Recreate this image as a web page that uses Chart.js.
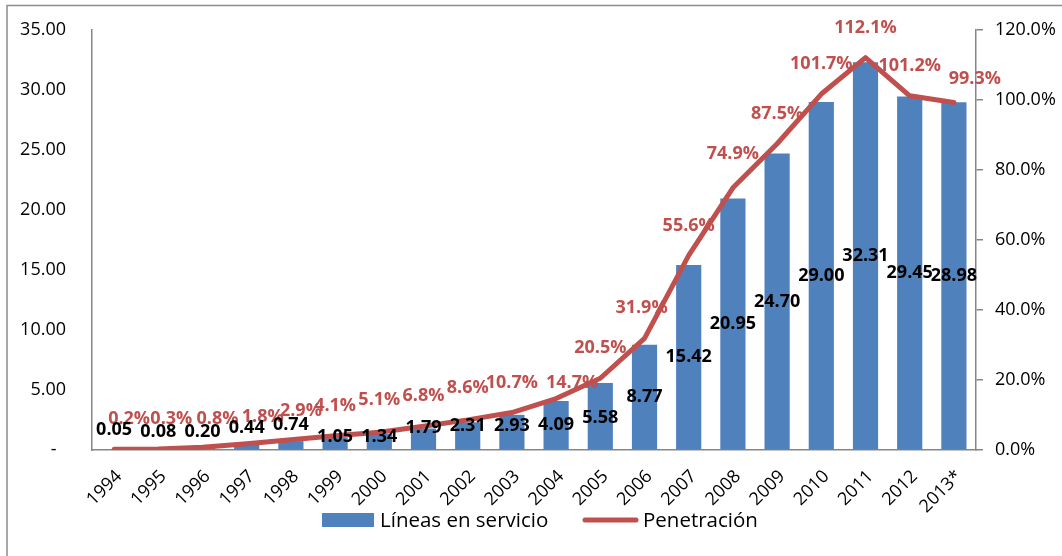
<!DOCTYPE html>
<html><head><meta charset="utf-8">
<script src="https://cdn.jsdelivr.net/npm/chart.js@4/dist/chart.umd.min.js"></script>
<style>html,body{margin:0;padding:0;background:#fff;}#wrap{width:1062px;height:556px;position:relative;}</style>
</head><body><div id="wrap"><canvas id="c" width="1062" height="556"></canvas></div>
<script>
const years = ['1994','1995','1996','1997','1998','1999','2000','2001','2002','2003','2004','2005','2006','2007','2008','2009','2010','2011','2012','2013*'];
const lineas = [0.05,0.08,0.20,0.44,0.74,1.05,1.34,1.79,2.31,2.93,4.09,5.58,8.77,15.42,20.95,24.70,29.00,32.31,29.45,28.98];
const penetracion = [0.2,0.3,0.8,1.8,2.9,4.1,5.1,6.8,8.6,10.7,14.7,20.5,31.9,55.6,74.9,87.5,101.7,112.1,101.2,99.3];
const seriesNames = ['Líneas en servicio','Penetración'];

const BLUE = '#4F81BD', RED = '#C0504D', AXIS = '#868686';
const FONT = '"Open Sans", "Liberation Sans", sans-serif';

function fixBox(w, h) {
  return function (s) {
    if (w !== null) s.width = w;
    if (h !== null) s.height = h;
    s.paddingTop = 0; s.paddingBottom = 0; s.paddingLeft = 0; s.paddingRight = 0;
  };
}

const labelPlugin = {
  id: 'customLabels',
  beforeDraw(chart) {
    const ctx = chart.ctx;
    ctx.save();
    ctx.fillStyle = '#fff';
    ctx.fillRect(0, 0, chart.width, chart.height);
    ctx.strokeStyle = '#8c8c8c';
    ctx.lineWidth = 1.5;
    ctx.strokeRect(7, 5.5, chart.width + 20, chart.height + 20);
    ctx.restore();
  },
  afterDatasetsDraw(chart, args, opts) {
    const ctx = chart.ctx;
    const barMeta = chart.getDatasetMeta(0);
    const lineMeta = chart.getDatasetMeta(1);
    ctx.save();
    ctx.textAlign = 'center';
    ctx.textBaseline = 'middle';
    ctx.font = 'bold 18px ' + FONT;
    ctx.fillStyle = RED;
    lineMeta.data.forEach((pt, i) => {
      ctx.fillText(penetracion[i].toFixed(1) + '%', pt.x + opts.lineDx[i], pt.y - 30 + opts.lineDy[i]);
    });
    ctx.fillStyle = '#000';
    barMeta.data.forEach((bar, i) => {
      const cy = Math.min((bar.y + bar.base) / 2, 430) + opts.barDy[i];
      ctx.fillText(lineas[i].toFixed(2), bar.x, cy);
    });
    // legend
    const ly = 520;
    ctx.fillStyle = BLUE;
    ctx.fillRect(322, ly - 7, 52, 14);
    ctx.font = '20.5px ' + FONT;
    ctx.textAlign = 'left';
    ctx.fillStyle = '#000';
    ctx.fillText(seriesNames[0], 380, ly + 1);
    ctx.strokeStyle = RED;
    ctx.lineWidth = 5;
    ctx.lineCap = 'round';
    ctx.beginPath();
    ctx.moveTo(585, ly);
    ctx.lineTo(636, ly);
    ctx.stroke();
    ctx.fillText(seriesNames[1], 643, ly + 1);
    ctx.restore();
  }
};

new Chart(document.getElementById('c'), {
  type: 'bar',
  data: {
    labels: years,
    datasets: [
      { type: 'bar', label: seriesNames[0], data: lineas, backgroundColor: BLUE, borderWidth: 0,
        yAxisID: 'y', order: 2, barPercentage: 0.57, categoryPercentage: 1 },
      { type: 'line', label: seriesNames[1], data: penetracion, borderColor: RED, backgroundColor: RED, borderWidth: 5,
        pointRadius: 0, tension: 0, borderCapStyle: 'round', borderJoinStyle: 'round', yAxisID: 'y1', order: 1 }
    ]
  },
  options: {
    responsive: false,
    animation: false,
    devicePixelRatio: 1,
    layout: { padding: { top: 30, left: 0, right: 0, bottom: 0 }, autoPadding: false },
    plugins: {
      legend: { display: false },
      tooltip: { enabled: false },
      customLabels: {
        lineDx: [15,13,15,16,10,0,0,0,0,0,16,0,-3,0,0,0,0,0,0,21],
        lineDy: [0,0,2,3,1,0,-2,0,-2,0,14,0,0,0,-4,0,0,0,0,6],
        barDy: [0,2,2,-2,-5,7,7,-2,-4,-4,0,1.5,0,0,0,0,0,0,0,0]
      }
    },
    scales: {
      x: {
        grid: { display: true, drawOnChartArea: false, drawTicks: false },
        border: { display: true, color: AXIS, width: 1.5 },
        ticks: { autoSkip: false, minRotation: 45, maxRotation: 45, padding: 16, labelOffset: 5, color: '#000', font: { family: FONT, size: 18 } },
        afterFit: fixBox(null, 106)
      },
      y: {
        position: 'left', min: 0, max: 35,
        grid: { display: true, drawOnChartArea: false, drawTicks: false },
        border: { display: true, color: AXIS, width: 1.5 },
        ticks: { stepSize: 5, padding: 26, color: '#000', font: { family: FONT, size: 18 },
          callback: v => v === 0 ? '-  ' : v.toFixed(2) },
        afterFit: fixBox(92, null)
      },
      y1: {
        position: 'right', min: 0, max: 120,
        grid: { display: true, drawOnChartArea: false, drawTicks: true, tickLength: 7, color: AXIS, lineWidth: 1.5 },
        border: { display: true, color: AXIS, width: 1.5 },
        ticks: { stepSize: 20, padding: 12, color: '#000', font: { family: FONT, size: 18 },
          callback: v => v.toFixed(1) + '%' },
        afterFit: fixBox(86, null)
      }
    }
  },
  plugins: [labelPlugin]
});
</script></body></html>
